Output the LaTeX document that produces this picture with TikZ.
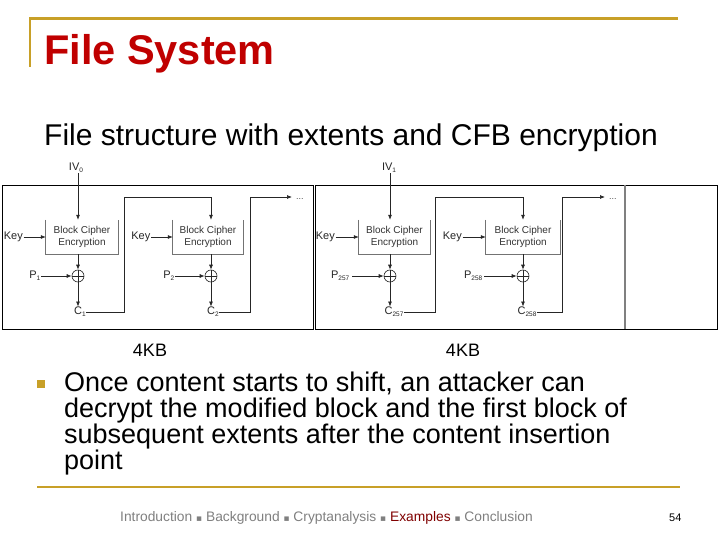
\documentclass[tikz,border=0pt]{standalone}
\usepackage{fontspec}
\setmainfont{Liberation Sans}
\newfontfamily\symfont{DejaVu Sans}
\usetikzlibrary{arrows.meta}
\definecolor{gold}{RGB}{200,160,40}
\definecolor{titlered}{RGB}{192,0,0}
\definecolor{footgray}{RGB}{128,128,128}
\definecolor{exred}{RGB}{128,0,0}
\newcommand\lsub[1]{\raisebox{-1.8pt}{\fontsize{6.5}{6.5}\selectfont #1}}
\newcommand\sqsep{{\symfont\fontsize{9}{9}\selectfont ▪}}
\begin{document}
\begin{tikzpicture}[x=1pt,y=-1pt,
  wire/.style={black!85, line width=0.7pt},
  arr/.style={wire,-{Latex[length=5pt,width=4pt]}},
  frame/.style={black, line width=0.8pt},
  lbl/.style={font=\fontsize{11}{11}\selectfont, inner sep=0.5pt, text=black!85},
  bcbox/.style={minimum height=34pt, inner sep=0pt, align=center, text=black!80,
    font=\fontsize{10}{12}\selectfont},
  bcside/.style={black!55, line width=0.8pt},
  xorn/.style={circle, draw=black!85, line width=0.6pt, minimum size=12pt, inner sep=0pt,
    path picture={\draw[black!85, line width=0.5pt]
      (path picture bounding box.north) -- (path picture bounding box.south)
      (path picture bounding box.west) -- (path picture bounding box.east);}},
  dotsn/.style={anchor=base west, inner sep=0pt, font=\fontsize{9}{9}\selectfont, text=black!70},
  kb/.style={font=\fontsize{18}{18}\selectfont, anchor=base, inner sep=0pt},
  bodyline/.style={font=\fontsize{27}{26}\selectfont, anchor=base west, inner sep=0pt}]
\useasboundingbox (0,0) rectangle (720,540);
\fill[white] (0,0) rectangle (720,540);

% title
\draw[gold, line width=2.5pt] (30,67) -- (30,18.5) -- (678,18.5);
\node[anchor=base west, inner sep=0pt, text=titlered, font=\fontsize{41.5}{41.5}\selectfont\bfseries] (title) at (44,65) {File System};
\node[anchor=base west, inner sep=0pt, font=\fontsize{30}{30}\selectfont] (subtitle) at (44,146) {File structure with extents and CFB encryption};

% extent frames
\draw[frame] (2.5,185) rectangle (313.5,329);
\draw[frame] (315.5,185) rectangle (717.5,329);
\draw[gray, line width=1.6pt] (625,185) -- (625,329);

% block cipher boxes
\node[bcbox, minimum width=72pt] (b1) at (82,237) {Block Cipher\\Encryption};
\node[bcbox, minimum width=70pt] (b2) at (208,237) {Block Cipher\\Encryption};
\node[bcbox, minimum width=71pt] (b3) at (394.5,237) {Block Cipher\\Encryption};
\node[bcbox, minimum width=74pt] (b4) at (523,237) {Block Cipher\\Encryption};
\foreach \b in {b1,b2,b3,b4}
  \draw[bcside] (\b.north west) -- (\b.south west) -- (\b.south east) -- (\b.north east);

% xor nodes
\node[xorn] (x1) at (78,276) {};
\node[xorn] (x2) at (211,276) {};
\node[xorn] (x3) at (390,276) {};
\node[xorn] (x4) at (523,276) {};

% keys
\node[lbl, anchor=east] (k1) at (23.5,237) {Key};
\node[lbl, anchor=east] (k2) at (151,237) {Key};
\node[lbl, anchor=east] (k3) at (335.5,237) {Key};
\node[lbl, anchor=east] (k4) at (462.5,237) {Key};
\draw[arr] (k1.east |- b1.west) -- (b1.west);
\draw[arr] (k2.east |- b2.west) -- (b2.west);
\draw[arr] (k3.east |- b3.west) -- (b3.west);
\draw[arr] (k4.east |- b4.west) -- (b4.west);

% plaintexts
\node[lbl, anchor=east] (p1) at (41,276) {P\lsub{1}};
\node[lbl, anchor=east] (p2) at (175,276) {P\lsub{2}};
\node[lbl, anchor=east] (p3) at (350,276) {P\lsub{257}};
\node[lbl, anchor=east] (p4) at (483,276) {P\lsub{258}};
\draw[arr] (p1.east |- x1.west) -- (x1.west);
\draw[arr] (p2.east |- x2.west) -- (x2.west);
\draw[arr] (p3.east |- x3.west) ++(2,0) -- (x3.west);
\draw[arr] (p4.east |- x4.west) ++(1,0) -- (x4.west);

% box to xor
\foreach \i in {1,2,3,4}
  \draw[arr] (x\i |- b\i.south) -- (x\i.north);

% ciphertexts
\node[lbl] (c1) at (80,312) {C\lsub{1}};
\node[lbl] (c2) at (213,312) {C\lsub{2}};
\node[lbl] (c3) at (394,312) {C\lsub{257}};
\node[lbl] (c4) at (527,312) {C\lsub{258}};
\foreach \i in {1,2,3,4}
  \draw[arr] (x\i.south) -- (x\i |- c\i.north);

% IVs
\node[lbl] (iv0) at (76,168) {IV\lsub{0}};
\node[lbl] (iv1) at (389,168) {IV\lsub{1}};
\draw[arr] (iv0.south -| x1) -- (x1 |- b1.north);
\draw[arr] (iv1.south -| x3) -- (x3 |- b3.north);

% feedback wires
\coordinate (w1) at (124,197);
\coordinate (w2) at (250,197);
\coordinate (w3) at (435,197);
\coordinate (w4) at (562,197);
\coordinate (d1) at (292,197);
\coordinate (d2) at (605,197);
\draw[wire] (c1.east) -| (w1);
\draw[arr] (w1) -| (x2 |- b2.north);
\draw[wire] (c2.east) -| (w2);
\draw[arr] (w2) -- (d1);
\draw[wire] (c3.east) -| (w3);
\draw[arr] (w3) -| (x4 |- b4.north);
\draw[wire] (c4.east) -| (w4);
\draw[arr] (w4) -- (d2);
\node[dotsn] (dots1) at (296,200) {...};
\node[dotsn] (dots2) at (609,200) {...};

% extent sizes
\node[kb] (kb1) at (150,356) {4KB};
\node[kb] (kb2) at (463,356) {4KB};

% bullet
\fill[gold] (37,380) rectangle (45,388);
\node[bodyline] (l1) at (64,391) {Once content starts to shift, an attacker can};
\node[bodyline] (l2) at (64,417) {decrypt the modified block and the first block of};
\node[bodyline] (l3) at (64,443) {subsequent extents after the content insertion};
\node[bodyline] (l4) at (64,469) {point};

% footer
\draw[gold, line width=2pt] (37,487) -- (680,487);
\node[anchor=base west, inner sep=0pt, text=footgray, font=\fontsize{13.8}{14}\selectfont] (foot) at (120,521)
  {Introduction \sqsep{} Background \sqsep{} Cryptanalysis \sqsep{} \textcolor{exred}{Examples} \sqsep{} Conclusion};
\node[anchor=base west, inner sep=0pt, font=\fontsize{11}{11}\selectfont] (page) at (669,521) {54};
\end{tikzpicture}
\end{document}
